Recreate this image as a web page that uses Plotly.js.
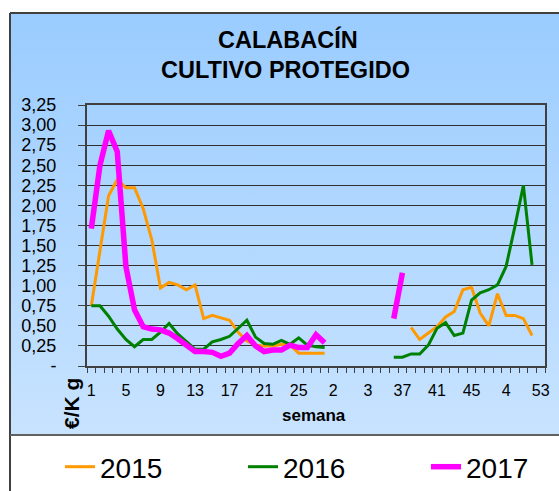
<!DOCTYPE html>
<html>
<head>
<meta charset="utf-8">
<script src="https://cdn.plot.ly/plotly-3.0.1.min.js"></script>
<style>html,body{margin:0;padding:0;background:#fff;}#chart{width:559px;height:491px;}</style>
</head>
<body>
<div id="chart"></div>
<script>
// ---- data ----
const weeks = [1,2,3,4,5,6,7,8,9,10,11,12,13,14,15,16,17,18,19,20,21,22,23,24,25,26,27,28,29,30,31,32,33,34,35,36,37,38,39,40,41,42,43,44,45,46,47,48,49,50,51,52,53];
const y2015 = [0.75,1.45,2.12,2.32,2.22,2.22,1.96,1.57,0.97,1.04,1.01,0.95,1.01,0.59,0.63,0.60,0.57,0.42,0.31,0.26,0.25,0.25,0.27,0.26,0.16,0.16,0.16,0.16,
  null,null,null,null,null,null,null,null,null,
  0.48,0.33,0.41,0.49,0.61,0.68,0.95,0.98,0.66,0.50,0.90,0.63,0.63,0.59,0.38,null];
const y2016 = [0.75,0.75,0.62,0.46,0.33,0.24,0.33,0.33,0.42,0.53,0.40,0.30,0.21,0.21,0.30,0.33,0.37,0.47,0.57,0.36,0.28,0.27,0.32,0.27,0.35,0.26,0.24,0.23,
  null,null,null,null,null,null,null,
  0.11,0.11,0.15,0.15,0.26,0.47,0.54,0.38,0.41,0.82,0.91,0.95,1.01,1.24,1.73,2.25,1.26,null];
const y2017 = [1.71,2.50,2.93,2.67,1.24,0.70,0.49,0.46,0.45,0.41,0.34,0.26,0.18,0.18,0.17,0.12,0.16,0.28,0.38,0.25,0.18,0.20,0.20,0.26,0.23,0.23,0.39,0.29,
  null,null,null,null,null,null,null,
  0.59,1.16,null,null,null,null,null,null,null,null,null,null,null,null,null,null,null,null];
const seriesNames = ['2015','2016','2017'];
const xTickVals = [1,5,9,13,17,21,25,29,33,37,41,45,49,53];
const xTickText = ['1','5','9','13','17','21','25','2','3','37','41','45','4','53'];
const yTickVals = [0,0.25,0.5,0.75,1,1.25,1.5,1.75,2,2.25,2.5,2.75,3,3.25];
const yTickText = ['-','0,25','0,50','0,75','1,00','1,25','1,50','1,75','2,00','2,25','2,50','2,75','3,00','3,25'];

const FONT = '"Liberation Sans", Arial, sans-serif';

const traces = [
  {x: weeks, y: y2015, name: seriesNames[0], mode: 'lines', line: {color: '#FF9900', width: 3}, connectgaps: false},
  {x: weeks, y: y2016, name: seriesNames[1], mode: 'lines', line: {color: '#008000', width: 3}, connectgaps: false},
  {x: weeks, y: y2017, name: seriesNames[2], mode: 'lines', line: {color: '#FF00FF', width: 5.5}, connectgaps: false}
];

const svg = "<svg xmlns='http://www.w3.org/2000/svg' width='100' height='100' preserveAspectRatio='none'><defs><linearGradient id='g' x1='0' y1='0' x2='0' y2='1'><stop offset='0' stop-color='#9ACCFF'/><stop offset='1' stop-color='#C8E3FF'/></linearGradient></defs><rect width='100' height='100' fill='url(#g)'/></svg>";
const gradUri = 'data:image/svg+xml;charset=utf-8,' + encodeURIComponent(svg);

// pixel helpers for layout placement (plot area: x 87..545, y 105..366)
const px = v => (v - 87) / 458;
const py = v => (366 - v) / 261;

const layout = {
  width: 559, height: 491,
  margin: {l: 87, r: 14, t: 105, b: 125, autoexpand: false},
  paper_bgcolor: '#ffffff',
  plot_bgcolor: '#ffffff',
  showlegend: true,
  font: {family: FONT, color: '#000'},
  xaxis: {
    range: [0.5, 53.5],
    tickmode: 'array', tickvals: xTickVals, ticktext: xTickText,
    ticks: '', showgrid: false, zeroline: false,
    showline: true, linecolor: '#404040', linewidth: 2, mirror: true,
    tickfont: {family: FONT, size: 16, color: '#000'},
    ticklabelstandoff: 9,
    minor: {tickmode: 'linear', tick0: 0.5, dtick: 1, ticks: 'outside', ticklen: 5, tickcolor: '#404040', tickwidth: 1, showgrid: false}
  },
  yaxis: {
    range: [0, 3.25],
    tickmode: 'array', tickvals: yTickVals, ticktext: yTickText,
    ticks: 'outside', ticklen: 7, tickcolor: '#404040', tickwidth: 1,
    showgrid: true, gridcolor: '#303030', gridwidth: 1, zeroline: false,
    showline: true, linecolor: '#404040', linewidth: 2, mirror: true,
    tickfont: {family: FONT, size: 18, color: '#000'},
    ticklabelstandoff: 18
  },
  legend: {
    orientation: 'h', x: px(60), xanchor: 'left', y: py(467), yanchor: 'middle',
    bgcolor: 'rgba(0,0,0,0)', font: {family: FONT, size: 28, color: '#000'},
    entrywidth: 138, entrywidthmode: 'pixels', traceorder: 'normal'
  },
  images: [{
    source: gradUri, xref: 'paper', yref: 'paper',
    x: px(10), y: py(13), sizex: px(570) - px(10), sizey: py(13) - py(435),
    xanchor: 'left', yanchor: 'top', sizing: 'stretch', layer: 'below'
  }],
  shapes: [
    {type: 'line', xref: 'paper', yref: 'paper', x0: px(10), x1: px(570), y0: py(13), y1: py(13), line: {color: '#404040', width: 2}},
    {type: 'line', xref: 'paper', yref: 'paper', x0: px(10), x1: px(10), y0: py(13), y1: py(495), line: {color: '#404040', width: 2}},
    {type: 'line', xref: 'paper', yref: 'paper', x0: px(10), x1: px(570), y0: py(435), y1: py(435), line: {color: '#606060', width: 2}}
  ],
  annotations: [
    {text: '<b>CALABACÍN</b>', xref: 'paper', yref: 'paper', x: px(288), y: py(40), xanchor: 'center', yanchor: 'middle', showarrow: false, font: {family: FONT, size: 23.5, color: '#000'}},
    {text: '<b>CULTIVO PROTEGIDO</b>', xref: 'paper', yref: 'paper', x: px(285), y: py(70), xanchor: 'center', yanchor: 'middle', showarrow: false, font: {family: FONT, size: 23.5, color: '#000'}},
    {text: '<b>semana</b>', xref: 'paper', yref: 'paper', x: px(314), y: py(415), xanchor: 'center', yanchor: 'middle', showarrow: false, font: {family: FONT, size: 17, color: '#000'}},
    {text: '<b>€/K g</b>', xref: 'paper', yref: 'paper', x: px(71), y: py(404), xanchor: 'center', yanchor: 'middle', textangle: -90, showarrow: false, font: {family: FONT, size: 21, color: '#000'}}
  ]
};

Plotly.newPlot('chart', traces, layout, {displayModeBar: false, staticPlot: true});
</script>
</body>
</html>
